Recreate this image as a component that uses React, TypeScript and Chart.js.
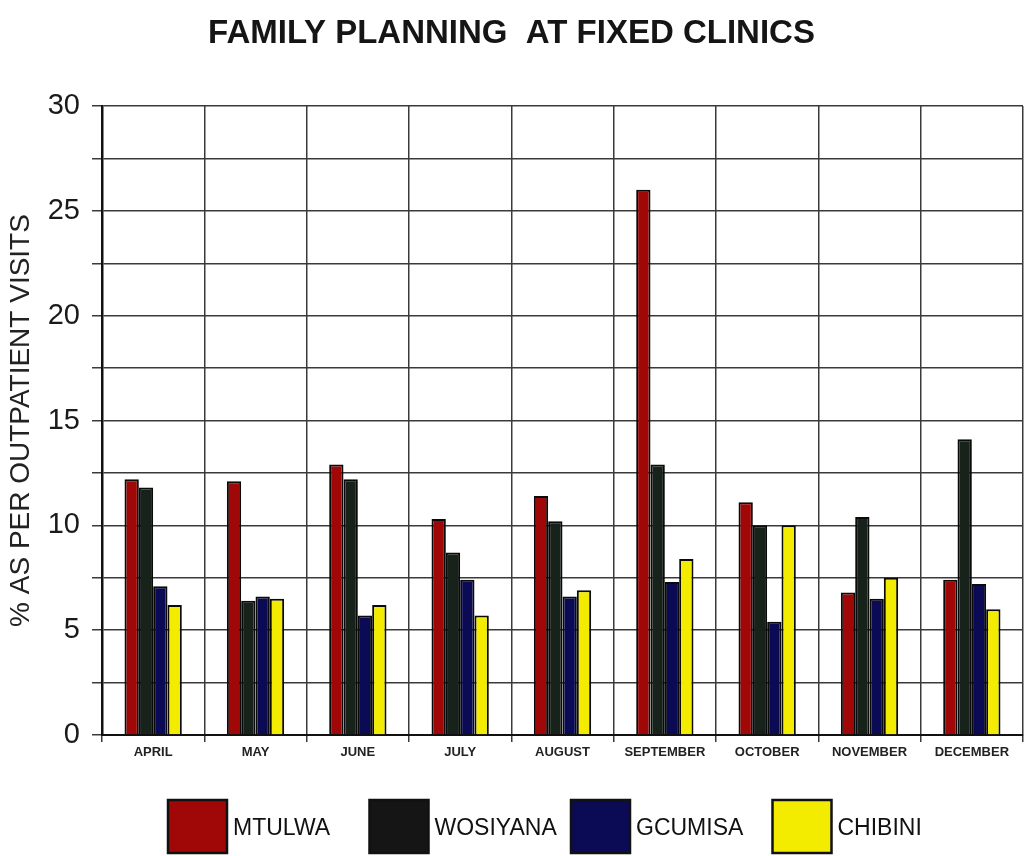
import React, { useEffect, useRef } from "react";
import { Chart, registerables } from "chart.js";

Chart.register(...registerables);

const months = ["APRIL", "MAY", "JUNE", "JULY", "AUGUST", "SEPTEMBER", "OCTOBER", "NOVEMBER", "DECEMBER"];
const seriesNames = ["MTULWA", "WOSIYANA", "GCUMISA", "CHIBINI"];
const mtulwa = [12.2, 12.1, 12.9, 10.3, 11.4, 26.0, 11.1, 6.8, 7.4];
const wosiyana = [11.8, 6.4, 12.2, 8.7, 10.2, 12.9, 10.0, 10.4, 14.1];
const gcumisa = [7.1, 6.6, 5.7, 7.4, 6.6, 7.3, 5.4, 6.5, 7.2];
const chibini = [6.2, 6.5, 6.2, 5.7, 6.9, 8.4, 10.0, 7.5, 6.0];
const yTickLabels = [0, 5, 10, 15, 20, 25, 30];

const FONT = "'Liberation Sans', Arial, sans-serif";
const barColors = ["#a00808", "#17221a", "#0b0b55", "#f4ec00"];
const legendColors = ["#a00808", "#151515", "#0b0b55", "#f4ec00"];

const legendPlugin = {
  id: "bottomLegend",
  afterDraw(chart: any) {
    const ctx = chart.ctx;
    ctx.save();
    chart.data.datasets.forEach((ds: any, i: number) => {
      const x = 168 + i * 201.5;
      const y = 800;
      ctx.fillStyle = legendColors[i];
      ctx.fillRect(x, y, 59, 53);
      ctx.lineWidth = 2.5;
      ctx.strokeStyle = "#111";
      ctx.strokeRect(x, y, 59, 53);
      ctx.fillStyle = "#111";
      ctx.font = `23px ${FONT}`;
      ctx.textBaseline = "middle";
      ctx.textAlign = "left";
      ctx.fillText(ds.label, x + 65, y + 29);
    });
    ctx.restore();
  },
};

export default function App() {
  const ref = useRef<HTMLCanvasElement | null>(null);
  useEffect(() => {
    if (!ref.current) return;
    const seriesData = [mtulwa, wosiyana, gcumisa, chibini];
    const chart = new Chart(ref.current, {
      type: "bar",
      data: {
        labels: months,
        datasets: seriesNames.map((name, i) => ({
          label: name,
          data: seriesData[i],
          backgroundColor: barColors[i],
          borderColor: "#0a0a0a",
          borderWidth: 2,
          categoryPercentage: 0.56,
          barPercentage: 1.0,
        })),
      },
      options: {
        responsive: false,
        animation: false,
        layout: { padding: { left: 0, right: 2, top: 0, bottom: 0 } },
        plugins: {
          legend: { display: false },
          tooltip: { enabled: false },
          title: {
            display: true,
            text: "FAMILY PLANNING  AT FIXED CLINICS",
            color: "#151515",
            font: { family: FONT, size: 33, weight: "bold" },
            padding: { top: 14, bottom: 52.4 },
          },
        },
        scales: {
          x: {
            grid: {
              color: "#3a3a3a",
              lineWidth: 1.5,
              offset: true,
              drawTicks: true,
              tickLength: 7,
            },
            border: { color: "#111", width: 2 },
            ticks: {
              color: "#222",
              padding: 3,
              font: { family: FONT, size: 13, weight: "bold" },
              maxRotation: 0,
              autoSkip: false,
            },
            afterFit: (s: any) => {
              s.height = 121;
            },
          },
          y: {
            min: 0,
            max: 30,
            grid: {
              color: "#3a3a3a",
              lineWidth: 1.5,
              tickLength: 10,
            },
            border: { color: "#111", width: 2.5 },
            ticks: {
              stepSize: 2.5,
              padding: 12,
              color: "#1a1a1a",
              font: { family: FONT, size: 29 },
              callback: (v: any) => (yTickLabels.includes(Number(v)) ? String(v) : ""),
            },
            title: {
              display: true,
              text: "% AS PER OUTPATIENT VISITS",
              color: "#222",
              font: { family: FONT, size: 28 },
              padding: { top: 4, bottom: 0 },
            },
            afterFit: (s: any) => {
              s.width = 102;
            },
          },
        },
      },
      plugins: [legendPlugin],
    } as any);
    return () => chart.destroy();
  }, []);
  return (
    <div style={{ position: "absolute", left: 0, top: 0, width: 1025, height: 856, background: "#fff" }}>
      <canvas ref={ref} width={1025} height={856} />
    </div>
  );
}
